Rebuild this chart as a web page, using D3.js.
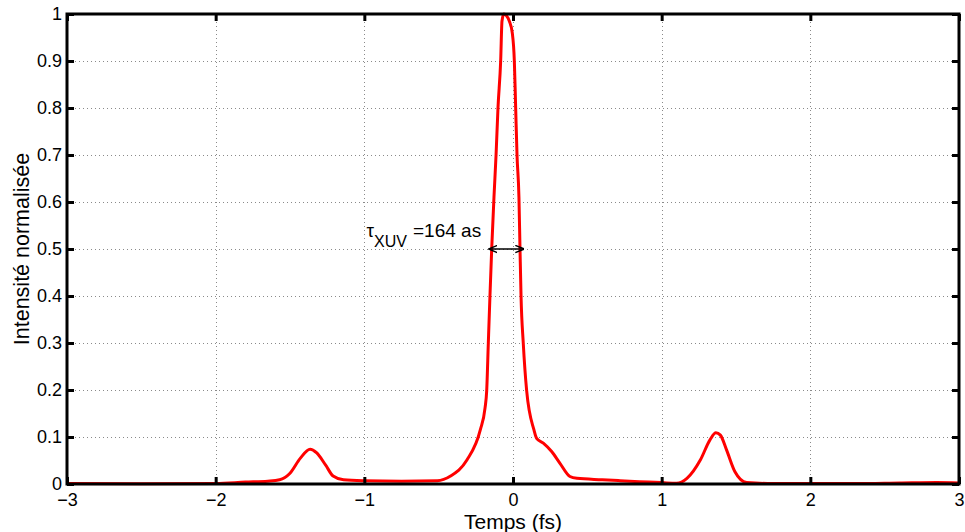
<!DOCTYPE html>
<html>
<head>
<meta charset="utf-8">
<script src="https://cdn.jsdelivr.net/npm/d3@7"></script>
<style>
  html, body { margin: 0; padding: 0; background: #fff; }
  svg { display: block; font-family: "Liberation Sans", Arial, Helvetica, sans-serif; }
</style>
</head>
<body>
<svg id="chart" width="965" height="532"></svg>
<script>
// ---- data ----
const timeFs = [
  -3.0, -2.5, -2.0, -1.8, -1.65, -1.57, -1.5, -1.43, -1.365, -1.32, -1.26, -1.21, -1.14, -1.0, -0.75,
  -0.51, -0.42, -0.31, -0.22, -0.188, -0.177, -0.166, -0.155, -0.143, -0.128, -0.114, -0.101, -0.083,
  -0.074, -0.062, -0.045, -0.025, -0.005, 0.009, 0.018, 0.027, 0.04, 0.047, 0.054, 0.069, 0.092, 0.141,
  0.159, 0.204, 0.26, 0.316, 0.383, 0.43, 0.6, 0.72, 0.85, 1.0, 1.1, 1.17, 1.26, 1.325, 1.365, 1.395,
  1.437, 1.493, 1.572, 1.75, 2.0, 2.3, 2.6, 2.85, 3.0
];
const intensity = [
  0.001, 0.0005, 0.001, 0.004, 0.006, 0.009, 0.023, 0.055, 0.074, 0.066, 0.04, 0.017, 0.009, 0.007, 0.006,
  0.007, 0.017, 0.051, 0.115, 0.162, 0.198, 0.3, 0.4, 0.502, 0.61, 0.7, 0.8, 0.9,
  0.985, 1.0, 0.997, 0.985, 0.96, 0.9, 0.8, 0.7, 0.61, 0.502, 0.4, 0.3, 0.198, 0.115,
  0.097, 0.087, 0.069, 0.044, 0.016, 0.012, 0.009, 0.007, 0.005, 0.003, 0.0015, 0.012, 0.051, 0.094, 0.109, 0.104,
  0.072, 0.026, 0.003, 0.001, 0.001, 0.0008, 0.002, 0.003, 0.002
];
const xTicks = [-3, -2, -1, 0, 1, 2, 3];
const yTicks = [0, 0.1, 0.2, 0.3, 0.4, 0.5, 0.6, 0.7, 0.8, 0.9, 1];
const xLabel = "Temps (fs)";
const yLabel = "Intensité normalisée";
const fwhmStart = -0.159, fwhmEnd = 0.07, fwhmLevel = 0.5;
const tauSymbol = "τ", tauSub = "XUV", tauText = "=164 as";
const tauPos = { t: -0.985, I: 0.525 };

// ---- layout ----
const svg = d3.select("#chart");
const margin = { left: 67, right: 6, top: 14, bottom: 48 };
const W = 965, H = 532;
const x = d3.scaleLinear().domain([-3, 3]).range([margin.left, W - margin.right]);
const y = d3.scaleLinear().domain([0, 1]).range([H - margin.bottom, margin.top]);
const x0 = x.range()[0], x1 = x.range()[1], y0 = y.range()[0], y1 = y.range()[1];

// grid
const grid = svg.append("g").attr("stroke", "#8a8a8a").attr("stroke-width", 1).attr("stroke-dasharray", "1,3");
grid.selectAll("line.gx").data(xTicks.slice(1, -1)).join("line")
  .attr("x1", d => Math.round(x(d)) + 0.5).attr("x2", d => Math.round(x(d)) + 0.5)
  .attr("y1", y1).attr("y2", y0);
grid.selectAll("line.gy").data(yTicks.slice(1, -1)).join("line")
  .attr("y1", d => Math.round(y(d)) + 0.5).attr("y2", d => Math.round(y(d)) + 0.5)
  .attr("x1", x0).attr("x2", x1);

// curve
const pts = timeFs.map((t, i) => [t, intensity[i]]);
svg.append("path").datum(pts)
  .attr("fill", "none").attr("stroke", "#ff0000").attr("stroke-width", 3)
  .attr("stroke-linejoin", "round")
  .attr("d", d3.line().x(d => x(d[0])).y(d => y(d[1])).curve(d3.curveMonotoneX));

// axes
const fmtY = d => d3.format("~g")(d);
const tickLen = 7;
function styleAxis(g) {
  g.selectAll(".domain").remove();
  g.selectAll(".tick line").attr("stroke", "#000").attr("stroke-width", 3);
  g.selectAll(".tick text").attr("fill", "#000").attr("font-size", 18).attr("font-family", "Liberation Sans, Arial, sans-serif");
}
svg.append("g").attr("transform", `translate(0,${y0})`)
  .call(d3.axisBottom(x).tickValues(xTicks).tickSize(-tickLen).tickPadding(9).tickFormat(d3.format("")))
  .call(styleAxis);
svg.append("g").attr("transform", `translate(0,${y1})`)
  .call(d3.axisTop(x).tickValues(xTicks).tickSize(-tickLen).tickFormat(""))
  .call(styleAxis);
svg.append("g").attr("transform", `translate(${x0},0)`)
  .call(d3.axisLeft(y).tickValues(yTicks).tickSize(-tickLen).tickPadding(5).tickFormat(fmtY))
  .call(styleAxis);
svg.append("g").attr("transform", `translate(${x1},0)`)
  .call(d3.axisRight(y).tickValues(yTicks).tickSize(-tickLen).tickFormat(""))
  .call(styleAxis);

// frame
svg.append("rect").attr("x", x0).attr("y", y1).attr("width", x1 - x0).attr("height", y0 - y1)
  .attr("fill", "none").attr("stroke", "#000").attr("stroke-width", 3);

// axis labels
svg.append("text").attr("x", (x0 + x1) / 2).attr("y", 529).attr("text-anchor", "middle")
  .attr("font-size", 21).attr("fill", "#000").text(xLabel);
svg.append("text").attr("transform", `translate(29,${(y0 + y1) / 2}) rotate(-90)`).attr("text-anchor", "middle")
  .attr("font-size", 21.5).attr("fill", "#000").text(yLabel);

// FWHM arrow
const defs = svg.append("defs");
defs.append("marker").attr("id", "ah").attr("viewBox", "0 0 10 10").attr("refX", 9).attr("refY", 5)
  .attr("markerWidth", 9).attr("markerHeight", 9).attr("markerUnits", "userSpaceOnUse").attr("orient", "auto-start-reverse")
  .append("path").attr("d", "M0,1 L10,5 L0,9").attr("fill", "none").attr("stroke", "#000").attr("stroke-width", 1.6);
svg.append("line")
  .attr("x1", x(fwhmStart)).attr("x2", x(fwhmEnd)).attr("y1", y(fwhmLevel)).attr("y2", y(fwhmLevel))
  .attr("stroke", "#000").attr("stroke-width", 1.3)
  .attr("marker-start", "url(#ah)").attr("marker-end", "url(#ah)");

// tau annotation
const ann = svg.append("text").attr("x", x(tauPos.t)).attr("y", y(tauPos.I)).attr("fill", "#000").attr("font-size", 19);
ann.append("tspan").text(tauSymbol);
ann.append("tspan").attr("dy", 9.5).attr("font-size", 16).text(tauSub);
ann.append("tspan").attr("dy", -9.5).attr("dx", 6).text(tauText);
</script>
</body>
</html>
